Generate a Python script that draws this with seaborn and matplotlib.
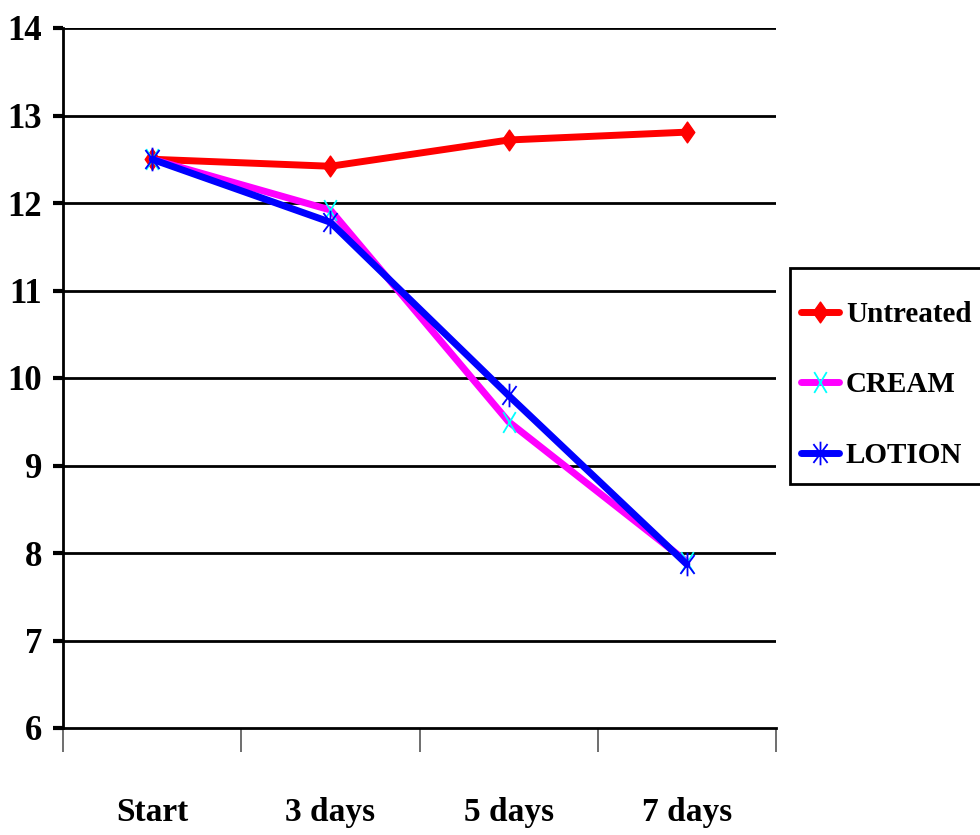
import matplotlib
matplotlib.use("Agg")
import matplotlib.pyplot as plt
import seaborn as sns
import pandas as pd
from matplotlib.ticker import FixedLocator
from matplotlib.path import Path
from matplotlib.patches import Rectangle

categories = ["Start", "3 days", "5 days", "7 days"]
untreated = [12.5, 12.42, 12.72, 12.81]
cream = [12.5, 11.92, 9.5, 7.9]
lotion = [12.5, 11.78, 9.8, 7.87]
series_names = ["Untreated", "CREAM", "LOTION"]
y_ticks = [6, 7, 8, 9, 10, 11, 12, 13, 14]

sns.set_theme(style="white")
plt.rcParams["font.family"] = ["Liberation Serif", "DejaVu Serif"]
plt.rcParams["font.weight"] = "bold"
plt.rcParams["text.color"] = "black"
plt.rcParams["xtick.labelcolor"] = "black"
plt.rcParams["ytick.labelcolor"] = "black"

df = pd.DataFrame({
    "day": categories * 3,
    "value": untreated + cream + lotion,
    "series": [series_names[0]] * 4 + [series_names[1]] * 4 + [series_names[2]] * 4,
})

diamond = Path([(0, 1), (0.7, 0), (0, -1), (-0.7, 0), (0, 1)],
               [Path.MOVETO, Path.LINETO, Path.LINETO, Path.LINETO, Path.CLOSEPOLY])
tall_x = Path([(-0.6, -1), (0.6, 1), (-0.6, 1), (0.6, -1)],
              [Path.MOVETO, Path.LINETO, Path.MOVETO, Path.LINETO])
asterisk = Path([(0, -1), (0, 1), (-0.6, -0.8), (0.6, 0.8), (-0.6, 0.8), (0.6, -0.8)],
                [Path.MOVETO, Path.LINETO, Path.MOVETO, Path.LINETO, Path.MOVETO, Path.LINETO])

fig = plt.figure(figsize=(9.8, 8.35), dpi=100)
ax = fig.add_axes([63 / 980, 1 - 728 / 835, (776 - 63) / 980, (728 - 28) / 835])

styles = {
    "Untreated": dict(color="#FF0000", marker=diamond, markersize=15, markerfacecolor="#FF0000",
                      markeredgecolor="#FF0000", markeredgewidth=1),
    "CREAM": dict(color="#FF00FF", marker=tall_x, markersize=15, markerfacecolor="none",
                  markeredgecolor="#00FFFF", markeredgewidth=1.3),
    "LOTION": dict(color="#0000FF", marker=asterisk, markersize=17, markerfacecolor="none",
                   markeredgecolor="#0000FF", markeredgewidth=1.3),
}

for name in series_names:
    sub = df[df["series"] == name]
    st = styles[name]
    sns.lineplot(data=sub, x="day", y="value", ax=ax, label=name, linewidth=5,
                 sort=False, **st)

ax.set_xlim(-0.5, 3.5)
ax.set_ylim(6, 14)
ax.set_yticks(y_ticks)
ax.set_yticklabels([str(t) for t in y_ticks], fontsize=25, fontweight="bold")
ax.set_xticks(range(len(categories)))
ax.set_xticklabels(categories, fontsize=24, fontweight="bold")
ax.xaxis.set_minor_locator(FixedLocator([-0.5, 0.5, 1.5, 2.5, 3.5]))
ax.tick_params(axis="x", which="major", length=0, pad=50)
ax.tick_params(axis="x", which="minor", length=17, width=1.2, color="#555555", direction="out", bottom=True)
ax.tick_params(axis="y", which="major", length=7, width=3, color="black", direction="out", left=True, pad=8)
ax.set_xlabel("")
ax.set_ylabel("")

ax.grid(False)
for y in y_ticks[1:]:
    ax.axhline(y, color="black", linewidth=2, zorder=0)

for s in ["top", "right"]:
    ax.spines[s].set_visible(False)
for s in ["left", "bottom"]:
    ax.spines[s].set_color("black")
    ax.spines[s].set_linewidth(2)

ax.get_legend().remove()

# legend frame (extends past right edge, as in the reference)
frame = Rectangle((790 / 980, 1 - 484 / 835), 200 / 980, 216 / 835,
                  transform=fig.transFigure, facecolor="white", edgecolor="black",
                  linewidth=2, zorder=1)
fig.patches.append(frame)

handles = ax.lines[:3]
leg = fig.legend(handles, series_names, loc="center left",
                 bbox_to_anchor=(792 / 980, 1 - 385 / 835),
                 frameon=False,
                 prop={"family": "Liberation Serif", "weight": "bold", "size": 21},
                 handlelength=1.3, handletextpad=0.25, labelspacing=1.5,
                 borderpad=0.3, borderaxespad=0)
leg.set_zorder(2)

fig.savefig("out.png", dpi=100)
